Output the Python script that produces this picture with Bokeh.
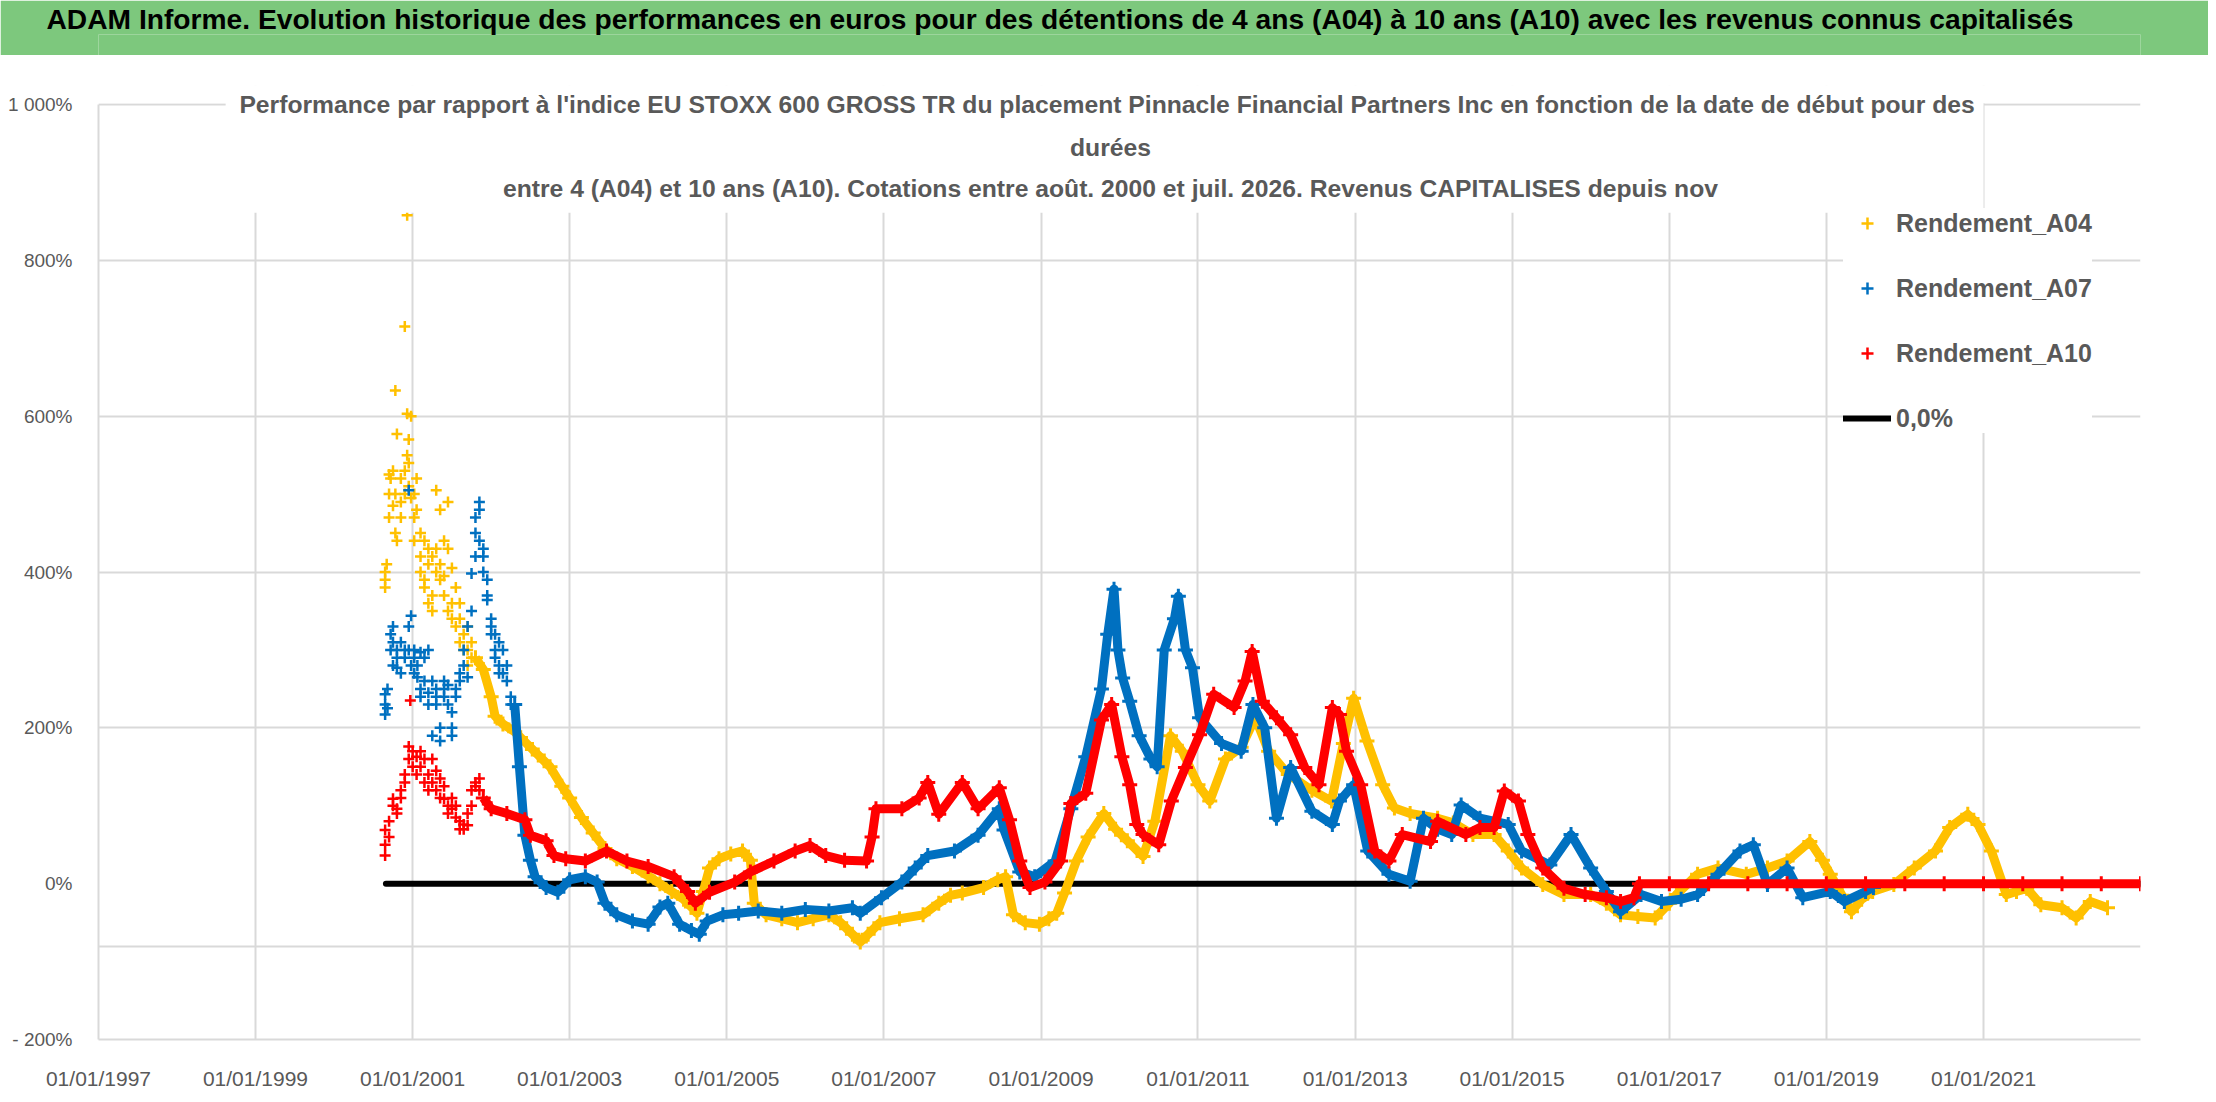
from datetime import datetime

from bokeh.embed import file_html
from bokeh.layouts import column
from bokeh.models import (BoxAnnotation, DatetimeTickFormatter, FixedTicker, Label,
                          Legend, LegendItem, Range1d, Title)
from bokeh.plotting import figure
from bokeh.resources import INLINE

# ---- data (decimal year, performance in %) ----
header_text = ("ADAM Informe. Evolution historique des performances en euros pour des "
               "détentions de 4 ans (A04) à 10 ans (A10) avec les revenus connus capitalisés")
subtitle_lines = [
    "Performance par rapport à l'indice EU STOXX 600 GROSS TR  du placement Pinnacle Financial "
    "Partners Inc en fonction de la date de début pour des",
    "durées",
    "entre 4 (A04) et 10 ans (A10). Cotations entre août. 2000 et juil. 2026. Revenus CAPITALISES depuis nov",
]

tick_years = [1997, 1999, 2001, 2003, 2005, 2007, 2009, 2011, 2013, 2015, 2017, 2019, 2021]
y_ticks = [-200, 0, 200, 400, 600, 800, 1000]
y_labels = ["- 200%", "0%", "200%", "400%", "600%", "800%", "1 000%"]
y_grid = [-200, -80, 200, 400, 600, 800, 1000]

# early, widely scattered quotes
a04_cloud = [
    (2000.65, 390), (2000.65, 380), (2000.65, 400), (2000.67, 410), (2000.70, 470), (2000.70, 500),
    (2000.70, 525), (2000.72, 520), (2000.75, 485), (2000.75, 530), (2000.78, 633), (2000.78, 500),
    (2000.78, 450), (2000.80, 440), (2000.80, 577), (2000.85, 520), (2000.85, 490), (2000.85, 470),
    (2000.90, 715), (2000.90, 500), (2000.90, 530), (2000.93, 858), (2000.93, 603), (2000.93, 550),
    (2000.95, 570), (2000.95, 540), (2000.95, 510), (2000.98, 600), (2000.98, 495), (2001.02, 500),
    (2001.02, 470), (2001.02, 440), (2001.05, 480), (2001.05, 520), (2001.10, 450), (2001.10, 420),
    (2001.10, 400), (2001.15, 390), (2001.15, 380), (2001.15, 440), (2001.20, 430), (2001.20, 410),
    (2001.20, 360), (2001.25, 420), (2001.25, 370), (2001.25, 350), (2001.30, 400), (2001.30, 430),
    (2001.30, 505), (2001.35, 390), (2001.35, 410), (2001.35, 480), (2001.40, 440), (2001.40, 395),
    (2001.40, 370), (2001.45, 430), (2001.45, 490), (2001.45, 350), (2001.50, 405), (2001.50, 360),
    (2001.50, 340), (2001.55, 380), (2001.55, 330), (2001.60, 340), (2001.60, 310), (2001.60, 360),
    (2001.65, 320), (2001.65, 300), (2001.70, 300), (2001.70, 330), (2001.70, 280), (2001.75, 290),
    (2001.75, 310),
]
a07_cloud = [
    (2000.65, 243), (2000.65, 230), (2000.65, 217), (2000.68, 225), (2000.68, 250), (2000.72, 300),
    (2000.72, 320), (2000.75, 280), (2000.75, 330), (2000.75, 310), (2000.80, 290), (2000.80, 277),
    (2000.80, 300), (2000.85, 310), (2000.85, 270), (2000.90, 300), (2000.90, 290), (2000.95, 330),
    (2000.95, 300), (2000.95, 505), (2000.98, 344), (2000.98, 280), (2001.02, 270), (2001.02, 290),
    (2001.02, 300), (2001.06, 265), (2001.06, 280), (2001.10, 250), (2001.10, 240), (2001.10, 297),
    (2001.15, 290), (2001.15, 260), (2001.20, 300), (2001.20, 245), (2001.20, 230), (2001.25, 260),
    (2001.25, 190), (2001.30, 250), (2001.30, 230), (2001.30, 240), (2001.35, 200), (2001.35, 183),
    (2001.40, 240), (2001.40, 250), (2001.40, 260), (2001.45, 230), (2001.45, 255), (2001.50, 220),
    (2001.50, 200), (2001.50, 190), (2001.55, 240), (2001.55, 250), (2001.60, 260), (2001.60, 270),
    (2001.65, 280), (2001.65, 300), (2001.70, 265), (2001.70, 330), (2001.75, 350), (2001.75, 398),
    (2001.80, 450), (2001.80, 470), (2001.80, 420), (2001.85, 490), (2001.85, 480), (2001.85, 440),
    (2001.90, 430), (2001.90, 400), (2001.90, 420), (2001.95, 390), (2001.95, 370), (2001.95, 364),
    (2002.00, 340), (2002.00, 330), (2002.00, 320), (2002.05, 320), (2002.05, 300), (2002.05, 290),
    (2002.10, 310), (2002.10, 280), (2002.10, 270), (2002.15, 300), (2002.15, 270), (2002.20, 260),
    (2002.20, 280), (2002.25, 240), (2002.25, 230),
]
a10_cloud = [
    (2000.65, 36), (2000.65, 50), (2000.65, 69), (2000.70, 60), (2000.70, 80), (2000.75, 100),
    (2000.75, 109), (2000.80, 96), (2000.80, 90), (2000.85, 110), (2000.85, 120), (2000.90, 130),
    (2000.90, 140), (2000.95, 176), (2000.95, 160), (2000.97, 235), (2001.00, 170), (2001.00, 150),
    (2001.05, 163), (2001.05, 140), (2001.10, 150), (2001.10, 170), (2001.15, 130), (2001.15, 160),
    (2001.20, 140), (2001.20, 120), (2001.25, 160), (2001.25, 130), (2001.30, 120), (2001.30, 145),
    (2001.35, 110), (2001.35, 135), (2001.40, 109), (2001.40, 125), (2001.45, 100), (2001.45, 90),
    (2001.50, 110), (2001.50, 96), (2001.55, 85), (2001.55, 100), (2001.60, 80), (2001.60, 70),
    (2001.65, 76), (2001.65, 70), (2001.70, 75), (2001.70, 90), (2001.75, 100), (2001.75, 120),
    (2001.80, 130), (2001.80, 125), (2001.85, 135), (2001.85, 120),
]

# the dense bands afterwards
a04_band = [
    (2001.80, 290), (2001.90, 275), (2002.00, 240), (2002.05, 215), (2002.15, 205), (2002.30, 195),
    (2002.45, 180), (2002.60, 165), (2002.75, 150), (2002.90, 125), (2003.00, 110), (2003.15, 85),
    (2003.30, 65), (2003.45, 45), (2003.60, 32), (2003.80, 22), (2004.00, 10), (2004.15, 0),
    (2004.30, -10), (2004.45, -20), (2004.55, -30), (2004.62, -38), (2004.70, -10), (2004.78, 20),
    (2004.90, 32), (2005.05, 38), (2005.20, 42), (2005.30, 30), (2005.35, -25), (2005.50, -40),
    (2005.70, -45), (2005.90, -50), (2006.10, -45), (2006.30, -40), (2006.45, -50), (2006.60, -65),
    (2006.70, -75), (2006.80, -65), (2006.95, -50), (2007.20, -45), (2007.50, -40), (2007.70, -25),
    (2007.85, -15), (2008.00, -12), (2008.27, -5), (2008.45, 5), (2008.55, 9), (2008.65, -40),
    (2008.80, -50), (2008.98, -52), (2009.10, -45), (2009.20, -38), (2009.30, -12), (2009.45, 29),
    (2009.60, 60), (2009.80, 90), (2009.95, 70), (2010.10, 55), (2010.30, 35), (2010.45, 80),
    (2010.65, 190), (2010.80, 170), (2011.00, 127), (2011.15, 106), (2011.35, 160), (2011.55, 175),
    (2011.73, 213), (2011.90, 170), (2012.15, 140), (2012.45, 120), (2012.70, 106), (2012.85, 180),
    (2012.98, 238), (2013.15, 183), (2013.35, 127), (2013.50, 97), (2013.70, 90), (2014.05, 84),
    (2014.25, 78), (2014.50, 63), (2014.77, 63), (2014.95, 42), (2015.12, 20), (2015.39, -1),
    (2015.66, -14), (2016.00, -14), (2016.20, -25), (2016.38, -40), (2016.60, -42), (2016.82, -44),
    (2017.00, -25), (2017.09, -14), (2017.36, 12), (2017.62, 20), (2017.98, 12), (2018.25, 20),
    (2018.50, 29), (2018.79, 54), (2018.95, 30), (2019.05, 12), (2019.20, -15), (2019.32, -36),
    (2019.45, -20), (2019.59, -10), (2019.86, -1), (2020.12, 20), (2020.39, 42), (2020.57, 72),
    (2020.80, 89), (2020.93, 76), (2021.10, 42), (2021.29, -14), (2021.42, -10), (2021.55, -6),
    (2021.73, -27), (2022.00, -31), (2022.18, -44), (2022.36, -23), (2022.58, -31),
]
a07_band = [
    (2002.30, 230), (2002.36, 150), (2002.43, 62), (2002.50, 30), (2002.56, 9), (2002.70, -5),
    (2002.85, -11), (2003.00, 5), (2003.20, 9), (2003.35, 2), (2003.45, -25), (2003.60, -40),
    (2003.80, -48), (2004.00, -52), (2004.15, -30), (2004.25, -25), (2004.40, -52), (2004.55, -60),
    (2004.65, -65), (2004.75, -48), (2004.95, -40), (2005.15, -38), (2005.40, -35), (2005.70, -38),
    (2006.00, -33), (2006.30, -35), (2006.60, -31), (2006.70, -38), (2006.97, -18), (2007.23, 2),
    (2007.40, 20), (2007.56, 36), (2007.90, 42), (2008.20, 62), (2008.47, 96), (2008.53, 69),
    (2008.73, 15), (2008.92, 9), (2009.18, 29), (2009.38, 96), (2009.57, 163), (2009.77, 250),
    (2009.85, 320), (2009.93, 378), (2009.98, 300), (2010.04, 264), (2010.13, 234), (2010.25, 190),
    (2010.40, 160), (2010.48, 150), (2010.57, 300), (2010.70, 340), (2010.75, 369), (2010.84, 300),
    (2010.93, 277), (2011.02, 213), (2011.30, 180), (2011.55, 170), (2011.70, 230), (2011.85, 200),
    (2012.00, 84), (2012.18, 149), (2012.45, 93), (2012.71, 76), (2012.80, 106), (2012.98, 127),
    (2013.16, 42), (2013.43, 12), (2013.70, 3), (2013.87, 84), (2014.05, 70), (2014.23, 63),
    (2014.35, 101), (2014.59, 84), (2014.95, 76), (2015.12, 42), (2015.48, 24), (2015.75, 63),
    (2016.00, 20), (2016.20, -10), (2016.38, -36), (2016.64, -14), (2016.90, -23), (2017.15, -20),
    (2017.36, -14), (2017.62, 12), (2017.90, 42), (2018.07, 50), (2018.25, -1), (2018.50, 20),
    (2018.70, -18), (2019.05, -10), (2019.23, -23), (2019.50, -10), (2019.60, -5),
]
a10_band = [
    (2001.90, 110), (2002.00, 96), (2002.20, 90), (2002.43, 82), (2002.50, 62), (2002.70, 55),
    (2002.80, 36), (2002.95, 32), (2003.20, 29), (2003.47, 42), (2003.73, 29), (2004.00, 22),
    (2004.33, 9), (2004.50, -10), (2004.60, -25), (2004.78, -11), (2005.10, 2), (2005.30, 15),
    (2005.60, 29), (2005.87, 42), (2006.06, 49), (2006.26, 36), (2006.50, 30), (2006.78, 29),
    (2006.85, 60), (2006.90, 96), (2007.23, 96), (2007.45, 110), (2007.56, 130), (2007.70, 89),
    (2008.00, 130), (2008.20, 96), (2008.47, 123), (2008.60, 82), (2008.73, 29), (2008.86, -5),
    (2009.05, 2), (2009.25, 29), (2009.38, 103), (2009.57, 116), (2009.77, 210), (2009.90, 230),
    (2010.03, 163), (2010.13, 127), (2010.22, 76), (2010.30, 63), (2010.50, 50), (2010.66, 106),
    (2010.84, 149), (2011.02, 191), (2011.20, 243), (2011.46, 226), (2011.60, 260), (2011.69, 298),
    (2011.82, 234), (2012.00, 213), (2012.18, 191), (2012.36, 149), (2012.54, 127), (2012.71, 226),
    (2012.80, 217), (2012.89, 170), (2013.07, 127), (2013.25, 42), (2013.43, 29), (2013.60, 63),
    (2013.96, 54), (2014.05, 80), (2014.41, 63), (2014.59, 72), (2014.77, 72), (2014.90, 119),
    (2015.08, 106), (2015.20, 63), (2015.39, 20), (2015.66, -6), (2015.93, -14), (2016.20, -18),
    (2016.38, -23), (2016.55, -18), (2016.62, 0), (2017.00, 0), (2017.50, 0), (2018.00, 0),
    (2018.50, 0), (2019.00, 0), (2019.50, 0), (2020.00, 0), (2020.50, 0), (2021.00, 0),
    (2021.50, 0), (2022.00, 0), (2022.50, 0), (2023.00, 0),
]
zero_line = [(2000.66, 0), (2023.00, 0)]

YELLOW, BLUE, RED = "#FFC000", "#0070C0", "#FF0000"
GREY_TEXT, GRID = "#595959", "#D9D9D9"
FONT = "Liberation Sans"


def to_date(y):
    year = int(y)
    start, end = datetime(year, 1, 1), datetime(year + 1, 1, 1)
    return start + (end - start) * (y - year)


def to_ms(y):
    return (to_date(y) - datetime(1970, 1, 1)).total_seconds() * 1000


def unzip(pairs):
    return [to_date(a) for a, _ in pairs], [b for _, b in pairs]


# ---- header band (its frame is aligned with the chart below, so the text is a Title) ----
header = figure(width=2208, height=55, x_range=(0, 1), y_range=(0, 1),
                toolbar_location=None, output_backend="svg",
                min_border_top=11, min_border_bottom=0)
header.axis.visible = False
header.grid.visible = False
header.outline_line_color = None
header.background_fill_color = "#7DC87D"
header.border_fill_color = "#7DC87D"
header.add_layout(Title(text=header_text, align="left", offset=-52, standoff=0,
                        text_font=FONT, text_font_size="28.2px", text_font_style="bold",
                        text_color="black"), "above")

# ---- main chart ----
p = figure(width=2208, height=1039, x_axis_type="datetime",
           x_range=Range1d(to_date(1997), to_date(2023)), y_range=Range1d(-200, 1024.4),
           toolbar_location=None, output_backend="svg",
           min_border_left=98, min_border_right=68, min_border_top=30, min_border_bottom=55)
p.outline_line_color = None

x_ticker = FixedTicker(ticks=[to_ms(y) for y in tick_years])
p.xaxis.ticker = x_ticker
p.xaxis.formatter = DatetimeTickFormatter(
    milliseconds="%d/%m/%Y", seconds="%d/%m/%Y", minsec="%d/%m/%Y", minutes="%d/%m/%Y",
    hourmin="%d/%m/%Y", hours="%d/%m/%Y", days="%d/%m/%Y", months="%d/%m/%Y", years="%d/%m/%Y")
p.xgrid.ticker = x_ticker
p.yaxis.ticker = FixedTicker(ticks=y_ticks)
p.yaxis.major_label_overrides = dict(zip(y_ticks, y_labels))
p.yaxis.bounds = (-200, 1000)
p.ygrid.ticker = FixedTicker(ticks=y_grid)

for ax in (p.xaxis, p.yaxis):
    ax.axis_line_color = GRID
    ax.axis_line_width = 2
    ax.major_tick_line_color = None
    ax.minor_tick_line_color = None
    ax.major_label_text_color = GREY_TEXT
    ax.major_label_text_font = FONT
p.xaxis.major_label_text_font_size = "21px"
p.xaxis.major_label_standoff = 21
p.yaxis.major_label_text_font_size = "19px"
p.yaxis.major_label_standoff = 20
p.grid.grid_line_color = GRID
p.grid.grid_line_width = 2

# zero reference line
zx, zy = unzip(zero_line)
zero_r = p.line(zx, zy, line_color="black", line_width=6, line_cap="round")

scatter_r = {}
for name, color, band, cloud in (("A04", YELLOW, a04_band, a04_cloud),
                                 ("A07", BLUE, a07_band, a07_cloud),
                                 ("A10", RED, a10_band, a10_cloud)):
    bx, by = unzip(band)
    cx, cy = unzip(cloud)
    p.line(bx, by, line_color=color, line_width=9, line_join="round")
    p.scatter(bx, by, marker="cross", size=15, line_color=color, line_width=3)
    scatter_r[name] = p.scatter(cx, cy, marker="cross", size=11, line_color=color, line_width=2.5)

# nothing is drawn above the 1000 % line, and a white panel sits behind the title
p.add_layout(BoxAnnotation(left=to_date(1997), right=to_date(2023), bottom=1001.5, top=1030,
                           fill_color="white", fill_alpha=1, line_color=None))
p.add_layout(BoxAnnotation(left=to_date(1998.62), right=to_date(2021.0), bottom=861, top=1030,
                           fill_color="white", fill_alpha=1, line_color=None))
for text, yv in zip(subtitle_lines, (1000, 945, 892)):
    p.add_layout(Label(x=to_date(2009.885), y=yv, text=text, text_align="center",
                       text_baseline="middle", text_font=FONT, text_font_size="24.7px",
                       text_font_style="bold", text_color=GREY_TEXT))

legend = Legend(items=[LegendItem(label="Rendement_A04", renderers=[scatter_r["A04"]]),
                       LegendItem(label="Rendement_A07", renderers=[scatter_r["A07"]]),
                       LegendItem(label="Rendement_A10", renderers=[scatter_r["A10"]]),
                       LegendItem(label="0,0%", renderers=[zero_r])],
                location=(1745, 606), margin=0, padding=20, spacing=35,
                glyph_width=48, glyph_height=30, label_height=30, label_standoff=5,
                border_line_color=None, background_fill_color="white", background_fill_alpha=1,
                label_text_font=FONT, label_text_font_size="25px", label_text_font_style="bold",
                label_text_color=GREY_TEXT)
p.add_layout(legend)

page = column(header, p, spacing=0)
open("out.html", "w").write(file_html(page, INLINE))
